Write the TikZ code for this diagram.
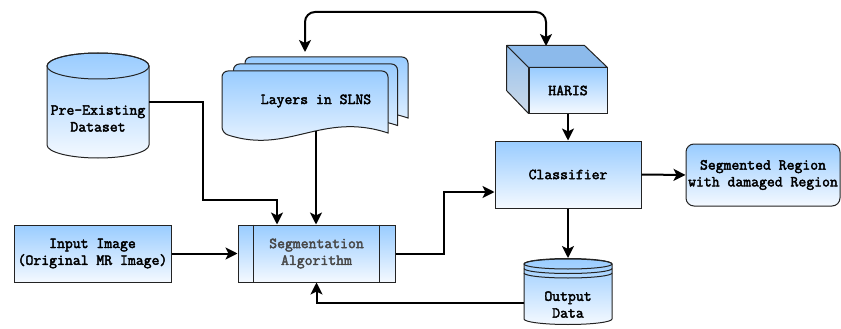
\documentclass[tikz,border=0pt]{standalone}
\usepackage{fontspec}
\newfontfamily\boxfont{Latin Modern Mono}[FakeBold=2.6]
\usetikzlibrary{arrows.meta}
\definecolor{boxtop}{RGB}{153,204,255}
\definecolor{boxbot}{RGB}{244,249,255}
\definecolor{edge}{RGB}{35,35,35}
\definecolor{cubetop}{RGB}{140,186,235}
\definecolor{cubeside}{RGB}{148,192,238}
\definecolor{cubesidebot}{RGB}{205,218,232}
\definecolor{dimtext}{RGB}{72,72,72}
\pgfdeclarelayer{bg}
\pgfsetlayers{bg,main}
\tikzset{
  grad/.style={top color=boxtop, bottom color=boxbot, draw=edge, line width=1pt},
  lbl/.style={font=\boxfont\fontsize{15.3}{16.8}\selectfont, align=center, inner sep=0pt},
  link/.style={line width=2pt, -{Stealth[length=12pt,width=12pt,inset=3pt]}},
  both/.style={line width=2pt, {Stealth[length=12pt,width=12pt,inset=3pt]}-{Stealth[length=12pt,width=12pt,inset=3pt]}},
}
% one sheet of the stacked document: top-left corner, width, height at the ends of the wave
\newcommand{\docsheet}[4]{%
  \path[grad, rounded corners=6pt] (#1+#3,#2+#4) -- (#1+#3,#2) -- (#1,#2) -- (#1,#2+#4)
    [sharp corners] .. controls (#1+0.4*#3,#2+#4+22) and (#1+0.6*#3,#2+#4-22) .. (#1+#3,#2+#4) -- cycle;}
\begin{document}
\begin{tikzpicture}[x=1pt,y=-1pt]
\useasboundingbox (0,0) rectangle (841,329);

% --- Pre-Existing Dataset (cylinder)
\path[grad] (47,66) -- (47,145) arc[start angle=180, end angle=360, x radius=51pt, y radius=13pt]
  -- (149,66) arc[start angle=0, end angle=180, x radius=51pt, y radius=13pt] -- cycle;
\draw[edge, line width=1pt] (98,66) ellipse[x radius=51pt, y radius=13pt];
\node[lbl, minimum width=102pt] (pre) at (98,118.5) {Pre-Existing\\Dataset};

% --- Layers in SLNS (stacked documents)
\docsheet{245}{57}{163}{61}
\docsheet{233.5}{64}{164}{61.5}
\docsheet{222}{71}{166}{62}
\node[lbl] (slns) at (316,101) {Layers in SLNS};
\coordinate (slnsbot) at (316,131);
\coordinate (slnstop) at (305,52);

% --- HARIS (cube)
\node[grad, lbl, minimum width=78pt, minimum height=45pt] (haris) at (568,90.5) {HARIS};
\path[fill=cubetop, draw=edge, line width=1pt, line join=round]
  (haris.north west) -- ++(-22,-22) -- ++(78,0) -- (haris.north east) -- cycle;
\path[top color=cubeside, bottom color=cubesidebot, draw=edge, line width=1pt, line join=round]
  (haris.north west) -- ++(-22,-22) -- ++(0,45) -- (haris.south west) -- cycle;
\coordinate (haristop) at (546,46);

% --- Classifier and result
\node[grad, lbl, minimum width=146pt, minimum height=67pt] (cls) at (568,174.5) {Classifier};
\node[grad, lbl, rounded corners=8pt, minimum width=154pt, minimum height=62pt] (segr) at (763,175)
  {Segmented Region\\with damaged Region};

% --- Input and segmentation
\node[grad, lbl, minimum width=157pt, minimum height=57pt] (inp) at (92.5,253.5)
  {Input Image\\(Original MR Image)};
\node[grad, lbl, text=dimtext, minimum width=157pt, minimum height=57pt] (seg) at (316.5,253.5)
  {Segmentation\\Algorithm};
\draw[edge, line width=1pt] ([xshift=16pt]seg.north west) -- ([xshift=16pt]seg.south west);
\draw[edge, line width=1pt] ([xshift=-16pt]seg.north east) -- ([xshift=-16pt]seg.south east);

% --- Output Data (data store)
\path[grad] (524,264) -- (524,319) arc[start angle=180, end angle=360, x radius=44pt, y radius=5.5pt]
  -- (612,264) arc[start angle=0, end angle=180, x radius=44pt, y radius=5.5pt] -- cycle;
\draw[edge, line width=1pt] (568,264) ellipse[x radius=44pt, y radius=5pt];
\draw[edge, line width=1pt] (524,268.5) arc[start angle=180, end angle=360, x radius=44pt, y radius=5pt];
\draw[edge, line width=1pt] (524,273) arc[start angle=180, end angle=360, x radius=44pt, y radius=5pt];
\node[lbl] (out) at (568,304.5) {Output\\Data};
\coordinate (outleft) at (524,303);
\coordinate (outtop) at (568,258);

% --- connectors
\begin{pgfonlayer}{bg}
\draw[both, rounded corners=10pt] (slnstop) -- (305,12) -- (546,12) -- (haristop);
\end{pgfonlayer}
\draw[link] ([yshift=16.5pt]pre.east) -- ++(54,0) -- ++(0,98) -| ([xshift=-39.5pt]seg.north);
\draw[link] (slnsbot) -- (slnsbot |- seg.north);
\draw[link] (inp.east) -- (seg.west);
\draw[link] (haris.south) -- (cls.north);
\draw[link] (seg.east) -- (444,253.5) |- ([yshift=-17.5pt]cls.west);
\draw[link] (cls.east) -- (segr.west);
\draw[link] (cls.south) -- (outtop);
\draw[link] (outleft) -| (seg.south);
\end{tikzpicture}
\end{document}
